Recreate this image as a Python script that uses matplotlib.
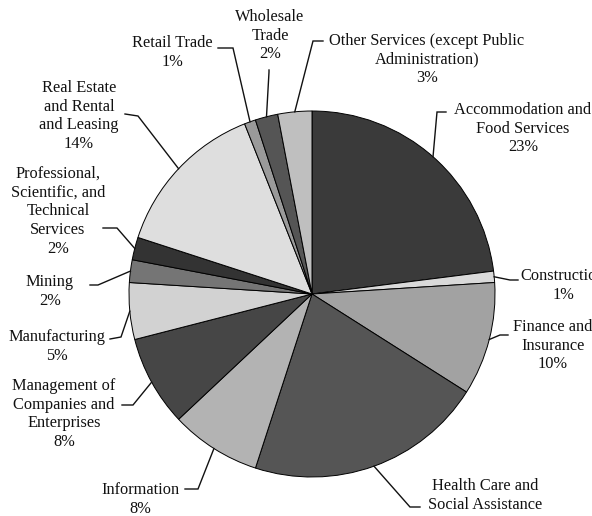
import matplotlib
matplotlib.use("Agg")
import matplotlib.pyplot as plt
import numpy as np

# ---- data ----
categories = [
    "Accommodation and\nFood Services",
    "Construction",
    "Finance and\nInsurance",
    "Health Care and\nSocial Assistance",
    "Information",
    "Management of\nCompanies and\nEnterprises",
    "Manufacturing",
    "Mining",
    "Professional,\nScientific, and\nTechnical\nServices",
    "Real Estate\nand Rental\nand Leasing",
    "Retail Trade",
    "Wholesale\nTrade",
    "Other Services (except Public\nAdministration)",
]
values = [23, 1, 10, 21, 8, 8, 5, 2, 2, 14, 1, 2, 3]
show_pct = [True, True, True, False, True, True, True, True, True, True, True, True, True]

colors = ["#3a3a3a", "#d9d9d9", "#a2a2a2", "#555555", "#b3b3b3", "#464646",
          "#d2d2d2", "#757575", "#333333", "#dedede", "#9a9a9a", "#555555", "#bfbfbf"]

# ---- layout (pixel coords, y from top) ----
W, H = 592, 516
CX, CY, R = 312, 294, 183

# label center (x, y of first line), leader start, elbow
layout = [
    ((523, 111), (446, 112), (437, 112)),   # Accommodation
    ((563, 277), (518, 280), (510, 280)),   # Construction
    ((553, 328), (508, 335), (500, 335)),   # Finance
    ((485, 487), (420, 507), (410, 507)),   # Health
    ((140, 491), (185, 489), (198, 489)),   # Information
    ((64, 387), (122, 405), (133, 405)),    # Management
    ((57, 338), (110, 339), (121, 337)),    # Manufacturing
    ((50, 283), (90, 285), (98, 285)),      # Mining
    ((58, 175), (103, 228), (117, 228)),    # Professional
    ((79, 89), (125, 114), (138, 116)),     # Real Estate
    ((172, 44), (218, 48), (233, 48)),      # Retail
    ((270, 18), (269, 70), (269, 72)),      # Wholesale
    ((427, 42), (323, 41), (313, 41)),      # Other
]

fig = plt.figure(figsize=(W / 100, H / 100), dpi=100)
fig.patch.set_facecolor("white")
ax = fig.add_axes([0, 0, 1, 1])

wedges, _ = ax.pie(values, colors=colors, startangle=90, counterclock=False,
                   center=(CX, H - CY), radius=R,
                   wedgeprops=dict(edgecolor="black", linewidth=0.7))
ax.set_xlim(0, W)
ax.set_ylim(0, H)
ax.set_aspect("equal")
ax.axis("off")

font = dict(family="Liberation Serif", fontsize=11.8, color="#111111")

for w, cat, v, sp, (lab, st, el) in zip(wedges, categories, values, show_pct, layout):
    mid = np.deg2rad((w.theta1 + w.theta2) / 2)
    ex = CX + R * np.cos(mid)
    ey = CY - R * np.sin(mid)
    xs = [st[0], el[0], ex]
    ys = [st[1], el[1], ey]
    ax.plot(xs, [H - y for y in ys], color="#111111", lw=1.0, solid_joinstyle="miter")
    text = cat + (f"\n{v}%" if sp else "")
    ax.text(lab[0], H - lab[1] + 9, text, ha="center", va="top",
            linespacing=1.22, **font)

fig.savefig("out.png", dpi=100, facecolor="white")
